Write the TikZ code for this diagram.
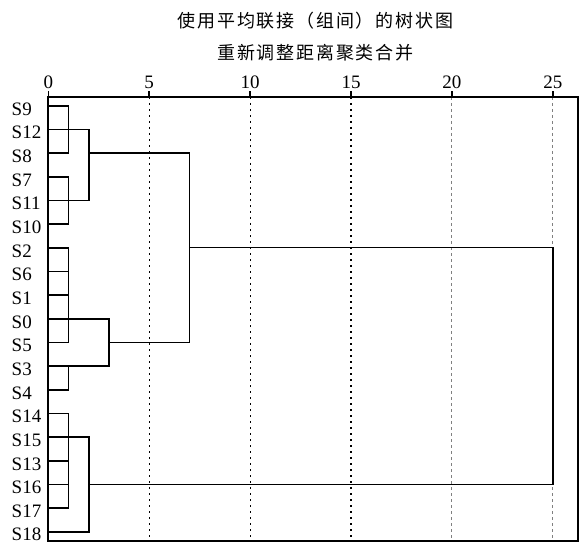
\documentclass[tikz,border=0pt]{standalone}
\usepackage{fontspec}
\usetikzlibrary{calc}
\setmainfont{Liberation Serif}
\newfontfamily\cjk[LetterSpace=10]{Noto Sans CJK SC}
\begin{document}
\begin{tikzpicture}[x=1pt,y=-1pt,
  frame/.style={line width=1.8pt},
  tree/.style={line width=1.7pt,line cap=rect,line join=miter},
  thin tree/.style={line width=1.2pt},
  tick/.style={line width=1.6pt},
  dotgrid/.style={line width=1.1pt,dash pattern=on 2pt off 4pt},
  dashgrid/.style={line width=1pt,gray,dash pattern=on 3pt off 3pt},
  lab/.style={anchor=base west,inner sep=0pt,font=\fontsize{19}{19}\selectfont},
  ticklab/.style={anchor=base,inner sep=0pt,font=\fontsize{19}{19}\selectfont},
  title/.style={inner sep=0pt,font=\cjk\fontsize{18}{18}\selectfont}]
\useasboundingbox (0,0) rectangle (580,545);
% title
\node[title] (t1) at (315.5,21) {使用平均联接（组间）的树状图};
\node[title] (t2) at (315.5,52.5) {重新调整距离聚类合并};
% frame corners
\coordinate (fTL) at (48.3,97);
\coordinate (fBR) at (578.3,541);
% distance positions
\foreach \d/\x in {0/48.3,1/68.5,2/88.7,3/108.8,5/149.2,7/189.6,10/250.1,15/351,20/451.9,25/552.8}{
  \coordinate (d\d) at (\x,0);
}
% grid lines
\foreach \d in {5,10,15}{\draw[dotgrid] (d\d |- fTL) -- (d\d |- fBR);}
\foreach \d in {20,25}{\draw[dashgrid] (d\d |- fTL) -- (d\d |- fBR);}
% rows
\foreach \n/\i in {S9/0,S12/1,S8/2,S7/3,S11/4,S10/5,S2/6,S6/7,S1/8,S0/9,S5/10,S3/11,S4/12,S14/13,S15/14,S13/15,S16/16,S17/17,S18/18}{
  \coordinate (r\n) at (48.3,{105.8+23.66*\i});
  \node[lab] (l\n) at (11.5,{115.1+23.66*\i}) {\n};
}
% leaf lines
\foreach \n in {S9,S8,S7,S10,S2,S6,S1,S5,S4,S14,S13,S16,S17}{\draw[tree] (r\n) -- (r\n -| d1);}
\foreach \n in {S12,S11,S15,S18}{\draw[tree] (r\n) -- (r\n -| d2);}
\foreach \n in {S0,S3}{\draw[tree] (r\n) -- (r\n -| d3);}
% verticals
\draw[tree] (rS9 -| d1) -- (rS8 -| d1);
\draw[tree] (rS7 -| d1) -- (rS10 -| d1);
\draw[tree] (rS2 -| d1) -- (rS5 -| d1);
\draw[tree] (rS3 -| d1) -- (rS4 -| d1);
\draw[tree] (rS14 -| d1) -- (rS17 -| d1);
\draw[tree] (rS12 -| d2) -- (rS11 -| d2);
\draw[tree] (rS15 -| d2) -- (rS18 -| d2);
\draw[tree] (rS0 -| d3) -- (rS3 -| d3);
% higher merges
\draw[tree] (rS8 -| d2) -- (rS8 -| d7);
\draw[tree] (rS5 -| d3) -- (rS5 -| d7);
\draw[tree] (rS8 -| d7) -- (rS5 -| d7);
\draw[tree,line width=1.4pt] (rS2 -| d7) -- (rS2 -| d25);
\draw[thin tree] (rS16 -| d2) -- (rS16 -| d25);
\draw[tree] (rS2 -| d25) -- (rS16 -| d25);
% frame
\draw[frame] (fTL) rectangle (fBR);
% ticks
\foreach \d in {0,5,10,15,20,25}{
  \draw[tick] (d\d |- fTL) -- ++(0,-6);
  \node[ticklab] (k\d) at ($(d\d |- fTL)+(0,-8.7)$) {\d};
}
\end{tikzpicture}
\end{document}
